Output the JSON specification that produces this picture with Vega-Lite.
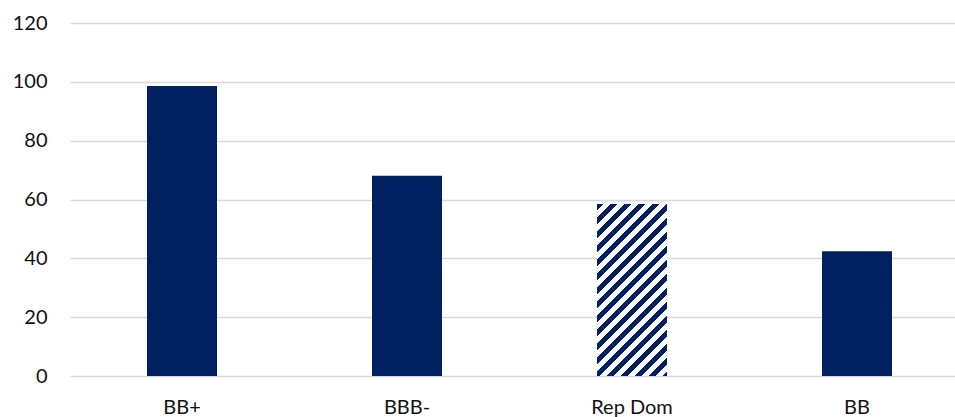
{
  "$schema": "https://vega.github.io/schema/vega-lite/v6.json",
  "width": 885,
  "height": 353,
  "autosize": {"type": "none"},
  "padding": {"left": 70, "top": 23, "right": 0, "bottom": 41},
  "background": "#ffffff",
  "config": {
    "view": {"stroke": null},
    "font": "Lato",
    "axis": {"labelFont": "Lato", "labelFontSize": 20, "labelColor": "#111111"}
  },
  "data": {
    "values": [
      {"rating": "BB+", "value": 98.6, "hatched": false},
      {"rating": "BBB-", "value": 68.1, "hatched": false},
      {"rating": "Rep Dom", "value": 58.5, "hatched": true},
      {"rating": "BB", "value": 42.4, "hatched": false}
    ]
  },
  "encoding": {
    "x": {
      "field": "rating",
      "type": "nominal",
      "sort": ["BB+", "BBB-", "Rep Dom", "BB"],
      "scale": {"domain": ["BB+", "BBB-", "Rep Dom", "BB"], "paddingInner": 0.68889, "paddingOuter": 0.31111, "align": 0.55},
      "axis": {"title": null, "labelAngle": 0, "domain": false, "ticks": false, "tickSize": 0, "labelPadding": 21, "grid": false}
    },
    "y": {
      "field": "value",
      "type": "quantitative",
      "scale": {"domain": [0, 120], "nice": false},
      "axis": {
        "title": null,
        "values": [0, 20, 40, 60, 80, 100, 120],
        "domain": false,
        "ticks": false,
        "tickSize": 0,
        "labelPadding": 23,
        "grid": true,
        "gridColor": "#d9d9d9",
        "gridWidth": 1.5
      }
    }
  },
  "layer": [
    {
      "transform": [{"filter": "!datum.hatched"}],
      "mark": {"type": "bar", "color": "#002060"}
    },
    {
      "transform": [{"filter": "datum.hatched"}],
      "mark": {
        "type": "bar",
        "color": {
          "gradient": "linear",
          "x1": 0, "y1": 0, "x2": 0.4912, "y2": 1.2071,
          "stops": [
            {"offset": 0.0, "color": "#002060"}, {"offset": 0.026, "color": "#002060"}, {"offset": 0.026, "color": "#ffffff"},
            {"offset": 0.0578, "color": "#ffffff"}, {"offset": 0.0578, "color": "#002060"}, {"offset": 0.0838, "color": "#002060"}, {"offset": 0.0838, "color": "#ffffff"},
            {"offset": 0.1156, "color": "#ffffff"}, {"offset": 0.1156, "color": "#002060"}, {"offset": 0.1416, "color": "#002060"}, {"offset": 0.1416, "color": "#ffffff"},
            {"offset": 0.1734, "color": "#ffffff"}, {"offset": 0.1734, "color": "#002060"}, {"offset": 0.1994, "color": "#002060"}, {"offset": 0.1994, "color": "#ffffff"},
            {"offset": 0.2312, "color": "#ffffff"}, {"offset": 0.2312, "color": "#002060"}, {"offset": 0.2572, "color": "#002060"}, {"offset": 0.2572, "color": "#ffffff"},
            {"offset": 0.289, "color": "#ffffff"}, {"offset": 0.289, "color": "#002060"}, {"offset": 0.315, "color": "#002060"}, {"offset": 0.315, "color": "#ffffff"},
            {"offset": 0.3468, "color": "#ffffff"}, {"offset": 0.3468, "color": "#002060"}, {"offset": 0.3728, "color": "#002060"}, {"offset": 0.3728, "color": "#ffffff"},
            {"offset": 0.4046, "color": "#ffffff"}, {"offset": 0.4046, "color": "#002060"}, {"offset": 0.4306, "color": "#002060"}, {"offset": 0.4306, "color": "#ffffff"},
            {"offset": 0.4624, "color": "#ffffff"}, {"offset": 0.4624, "color": "#002060"}, {"offset": 0.4884, "color": "#002060"}, {"offset": 0.4884, "color": "#ffffff"},
            {"offset": 0.5202, "color": "#ffffff"}, {"offset": 0.5202, "color": "#002060"}, {"offset": 0.5462, "color": "#002060"}, {"offset": 0.5462, "color": "#ffffff"},
            {"offset": 0.578, "color": "#ffffff"}, {"offset": 0.578, "color": "#002060"}, {"offset": 0.604, "color": "#002060"}, {"offset": 0.604, "color": "#ffffff"},
            {"offset": 0.6358, "color": "#ffffff"}, {"offset": 0.6358, "color": "#002060"}, {"offset": 0.6618, "color": "#002060"}, {"offset": 0.6618, "color": "#ffffff"},
            {"offset": 0.6936, "color": "#ffffff"}, {"offset": 0.6936, "color": "#002060"}, {"offset": 0.7196, "color": "#002060"}, {"offset": 0.7196, "color": "#ffffff"},
            {"offset": 0.7514, "color": "#ffffff"}, {"offset": 0.7514, "color": "#002060"}, {"offset": 0.7774, "color": "#002060"}, {"offset": 0.7774, "color": "#ffffff"},
            {"offset": 0.8092, "color": "#ffffff"}, {"offset": 0.8092, "color": "#002060"}, {"offset": 0.8352, "color": "#002060"}, {"offset": 0.8352, "color": "#ffffff"},
            {"offset": 0.867, "color": "#ffffff"}, {"offset": 0.867, "color": "#002060"}, {"offset": 0.893, "color": "#002060"}, {"offset": 0.893, "color": "#ffffff"},
            {"offset": 0.9248, "color": "#ffffff"}, {"offset": 0.9248, "color": "#002060"}, {"offset": 0.9508, "color": "#002060"}, {"offset": 0.9508, "color": "#ffffff"},
            {"offset": 0.9826, "color": "#ffffff"}, {"offset": 0.9826, "color": "#002060"}, {"offset": 1.0, "color": "#002060"}
          ]
        }
      }
    }
  ]
}
